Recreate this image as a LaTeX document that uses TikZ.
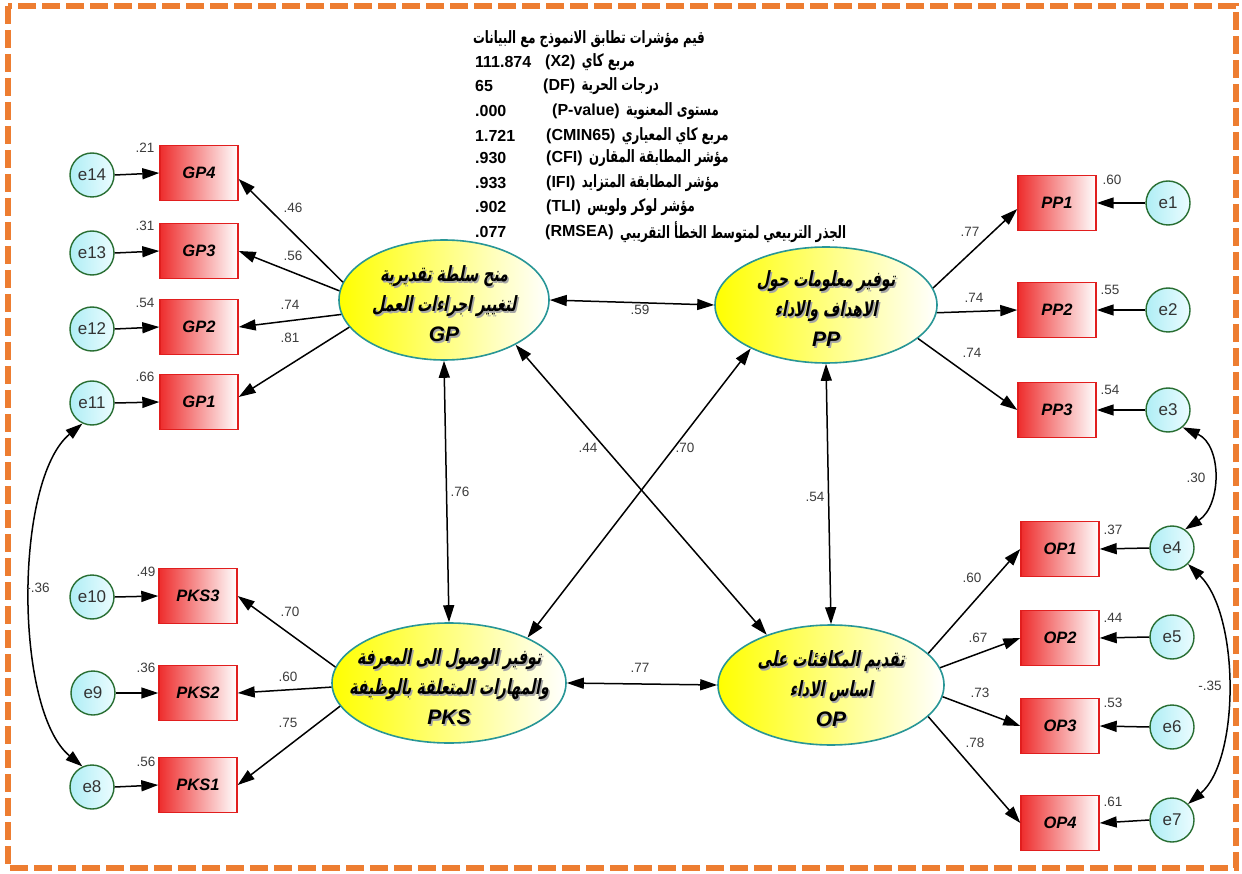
\documentclass[tikz,border=0pt]{standalone}
\usepackage{fontspec}
\setmainfont{Liberation Sans}
\newfontfamily\arabicbf[Script=Arabic,FakeStretch=0.69]{DejaVu Sans Bold}
\newfontfamily\arabicbi[Script=Arabic,FakeSlant=0.2,FakeStretch=0.67]{DejaVu Sans Bold}
\TeXXeTstate=1
\usetikzlibrary{shapes.geometric,arrows.meta}

\definecolor{frameorange}{RGB}{237,125,49}
\definecolor{boxred}{RGB}{238,45,45}
\definecolor{boxedge}{RGB}{225,30,30}
\definecolor{errfill}{RGB}{175,238,245}
\definecolor{errfill2}{RGB}{235,252,255}
\definecolor{erredge}{RGB}{40,110,50}
\definecolor{latedge}{RGB}{40,150,150}
\definecolor{numgray}{RGB}{60,60,60}

\tikzset{
  obsbox/.style={rectangle, draw=boxedge, line width=1.4pt, minimum width=78pt,
    minimum height=55pt, inner sep=0pt, left color=boxred, right color=white,
    font=\fontsize{16.5}{18}\selectfont\bfseries\itshape},
  errcirc/.style={circle, draw=erredge, line width=1.4pt, minimum size=44pt,
    inner sep=0pt, left color=errfill, right color=errfill2,
    font=\fontsize{17}{18}\selectfont, text=black!80},
  latent/.style={ellipse, draw=latedge, line width=1.6pt, inner sep=0pt,
    left color=yellow, middle color=yellow!35, right color=white},
  lattext/.style={align=center, inner sep=0pt, font=\fontsize{21}{30}\selectfont},
  num/.style={inner sep=0pt, text=numgray, font=\fontsize{13.5}{15}\selectfont},
  fitv/.style={anchor=west, inner sep=0pt, font=\fontsize{16}{18}\selectfont\bfseries},
  fita/.style={anchor=west, inner sep=0pt, font=\fontsize{17}{18}\selectfont\arabicbf},
  path/.style={line width=1.5pt, -{Triangle[length=17pt,width=11pt]}},
  cov/.style={line width=1.5pt, {Triangle[length=17pt,width=11pt]}-{Triangle[length=17pt,width=11pt]}}
}

\begin{document}
\begin{tikzpicture}[x=1pt,y=-1pt]
\useasboundingbox (0,0) rectangle (1242,874);
\fill[white] (0,0) rectangle (1242,874);

% dashed frame
\draw[frameorange, line width=6pt, dash pattern=on 18pt off 6pt] (8,6) rectangle (1236,868);

% ---------- fit indices ----------
\node[fita] (f1) at (473,39) {\beginR قيم مؤشرات تطابق الانموذج مع البيانات\endR};
\node[fitv] (f2v) at (475,62) {111.874};
\node[fitv] (f2k) at (545,62) {(X2)};
\node[fita] (f2a) at ([xshift=6pt]f2k.east) {\beginR مربع كاي\endR};
\node[fitv] (f3v) at (475,86) {65};
\node[fitv] (f3k) at (543,86) {(DF)};
\node[fita] (f3a) at ([xshift=6pt]f3k.east) {\beginR درجات الحرية\endR};
\node[fitv] (f4v) at (475,111) {.000};
\node[fitv] (f4k) at (552,111) {(P-value)};
\node[fita] (f4a) at ([xshift=6pt]f4k.east) {\beginR مستوى المعنوية\endR};
\node[fitv] (f5v) at (475,136) {1.721};
\node[fitv] (f5k) at (546,136) {(CMIN65)};
\node[fita] (f5a) at ([xshift=6pt]f5k.east) {\beginR مربع كاي المعياري\endR};
\node[fitv] (f6v) at (475,158) {.930};
\node[fitv] (f6k) at (546,158) {(CFI)};
\node[fita] (f6a) at ([xshift=6pt]f6k.east) {\beginR مؤشر المطابقة المقارن\endR};
\node[fitv] (f7v) at (475,183) {.933};
\node[fitv] (f7k) at (546,183) {(IFI)};
\node[fita] (f7a) at ([xshift=6pt]f7k.east) {\beginR مؤشر المطابقة المتزايد\endR};
\node[fitv] (f8v) at (475,207) {.902};
\node[fitv] (f8k) at (546,207) {(TLI)};
\node[fita] (f8a) at ([xshift=6pt]f8k.east) {\beginR مؤشر لوكر ولويس\endR};
\node[fitv] (f9v) at (475,232) {.077};
\node[fitv] (f9k) at (545,232) {(RMSEA)};
\node[fita] (f9a) at ([xshift=6pt]f9k.east) {\beginR الجذر التربيعي لمتوسط الخطأ التقريبي\endR};

% ---------- latent factors ----------
\node[latent, minimum width=210pt, minimum height=120pt] (GP) at (444,300) {};
\node[latent, minimum width=222pt, minimum height=116pt] (PP) at (826,305) {};
\node[latent, minimum width=234pt, minimum height=120pt] (PKS) at (449,683) {};
\node[latent, minimum width=226pt, minimum height=120pt] (OP) at (831,685) {};

\foreach \nm/\la/\lb/\code in {
  GP/{منح سلطة تقديرية}/{لتغيير اجراءات العمل}/GP,
  PP/{توفير معلومات حول}/{الاهداف والاداء}/PP,
  PKS/{توفير الوصول الى المعرفة}/{والمهارات المتعلقة بالوظيفة}/PKS,
  OP/{تقديم المكافئات على}/{اساس الاداء}/OP}{
  \node[lattext, text=black!35] (\nm s) at ([xshift=1.5pt,yshift=-5.5pt]\nm.center)
    {{\arabicbi\beginR\la\endR}\\{\arabicbi\beginR\lb\endR}\\{\bfseries\itshape\fontsize{21}{30}\selectfont\code}};
  \node[lattext] (\nm t) at ([yshift=-4pt]\nm.center)
    {{\arabicbi\beginR\la\endR}\\{\arabicbi\beginR\lb\endR}\\{\bfseries\itshape\fontsize{21}{30}\selectfont\code}};
}

% ---------- observed indicators ----------
\node[obsbox] (GP4) at (199,173) {GP4};
\node[obsbox] (GP3) at (199,251) {GP3};
\node[obsbox] (GP2) at (199,327) {GP2};
\node[obsbox] (GP1) at (199,402) {GP1};
\node[obsbox] (PKS3) at (198,596) {PKS3};
\node[obsbox] (PKS2) at (198,693) {PKS2};
\node[obsbox] (PKS1) at (198,785) {PKS1};
\node[obsbox] (PP1) at (1057,203) {PP1};
\node[obsbox] (PP2) at (1057,310) {PP2};
\node[obsbox] (PP3) at (1057,410) {PP3};
\node[obsbox] (OP1) at (1060,549) {OP1};
\node[obsbox] (OP2) at (1060,638) {OP2};
\node[obsbox] (OP3) at (1060,726) {OP3};
\node[obsbox] (OP4) at (1060,823) {OP4};

% ---------- error terms ----------
\node[errcirc] (e14) at (92,175) {e14};
\node[errcirc] (e13) at (92,253) {e13};
\node[errcirc] (e12) at (92,329) {e12};
\node[errcirc] (e11) at (92,403) {e11};
\node[errcirc] (e10) at (92,597) {e10};
\node[errcirc] (e9) at (93,693) {e9};
\node[errcirc] (e8) at (92,787) {e8};
\node[errcirc] (e1) at (1168,203) {e1};
\node[errcirc] (e2) at (1168,310) {e2};
\node[errcirc] (e3) at (1168,410) {e3};
\node[errcirc] (e4) at (1172,548) {e4};
\node[errcirc] (e5) at (1172,637) {e5};
\node[errcirc] (e6) at (1172,727) {e6};
\node[errcirc] (e7) at (1172,820) {e7};

% error -> indicator
\foreach \e/\o in {e14/GP4,e13/GP3,e12/GP2,e11/GP1,e10/PKS3,e9/PKS2,e8/PKS1}
  \draw[path] (\e.east) -- (\o.west);
\foreach \e/\o in {e1/PP1,e2/PP2,e3/PP3,e4/OP1,e5/OP2,e6/OP3,e7/OP4}
  \draw[path] (\e.west) -- (\o.east);

% factor loadings
\draw[path] (GP.170) -- ([yshift=-6pt]GP4.east);
\draw[path] (GP.175) -- (GP3.east);
\draw[path] (GP.188) -- (GP2.east);
\draw[path] (GP.196) -- ([yshift=5pt]GP1.east);
\draw[path] (PKS.172) -- (PKS3.east);
\draw[path] (PKS.182) -- (PKS2.east);
\draw[path] (PKS.192) -- (PKS1.east);
\draw[path] (PP.9) -- ([yshift=-6pt]PP1.west);
\draw[path] (PP.-4) -- (PP2.west);
\draw[path] (PP.-20) -- (PP3.west);
\draw[path] (OP.18) -- (OP1.west);
\draw[path] (OP.9) -- (OP2.west);
\draw[path] (OP.-6) -- (OP3.west);
\draw[path] (OP.-18) -- (OP4.west);

% factor correlations
\draw[cov] (GP.east) -- (PP.west);
\draw[cov] (GP.south) -- (PKS.north);
\draw[cov] (PP.south) -- (OP.north);
\draw[cov] (PKS.east) -- (OP.west);
\draw[cov] (GP.-32) -- (OP.142);
\draw[cov] (PP.210) -- (PKS.30);

% error covariances
\draw[cov] (e11.245) .. controls (14,480) and (14,710) .. (e8.115);
\draw[cov] (e3.-50) .. controls (1222,445) and (1222,505) .. (e4.55);
\draw[cov] (e4.-45) .. controls (1240,615) and (1240,760) .. (e7.45);

% squared multiple correlations
\node[num] (r21) at (145,148) {.21};
\node[num] (r31) at (145,226) {.31};
\node[num] (r54a) at (145,303) {.54};
\node[num] (r66) at (145,377) {.66};
\node[num] (r49) at (146,572) {.49};
\node[num] (r36) at (146,668) {.36};
\node[num] (r56) at (146,762) {.56};
\node[num] (r60) at (1112,180) {.60};
\node[num] (r55) at (1110,290) {.55};
\node[num] (r54b) at (1110,390) {.54};
\node[num] (r37) at (1113,530) {.37};
\node[num] (r44) at (1113,618) {.44};
\node[num] (r53) at (1113,703) {.53};
\node[num] (r61) at (1113,802) {.61};

% loading and correlation values
\node[num] (l46) at (293,208) {.46};
\node[num] (l56) at (293,256) {.56};
\node[num] (l74a) at (290,305) {.74};
\node[num] (l81) at (290,338) {.81};
\node[num] (l70a) at (290,612) {.70};
\node[num] (l60a) at (288,677) {.60};
\node[num] (l75) at (288,723) {.75};
\node[num] (l77a) at (970,232) {.77};
\node[num] (l74b) at (974,298) {.74};
\node[num] (l74c) at (972,353) {.74};
\node[num] (l60b) at (972,578) {.60};
\node[num] (l67) at (978,638) {.67};
\node[num] (l73) at (980,693) {.73};
\node[num] (l78) at (975,743) {.78};
\node[num] (c59) at (640,310) {.59};
\node[num] (c76) at (460,492) {.76};
\node[num] (c44) at (588,448) {.44};
\node[num] (c70) at (685,448) {.70};
\node[num] (c54) at (815,497) {.54};
\node[num] (c77) at (640,668) {.77};
\node[num] (cm36) at (38,588) {-.36};
\node[num] (c30) at (1196,478) {.30};
\node[num] (cm35) at (1210,686) {-.35};
\end{tikzpicture}
\end{document}
